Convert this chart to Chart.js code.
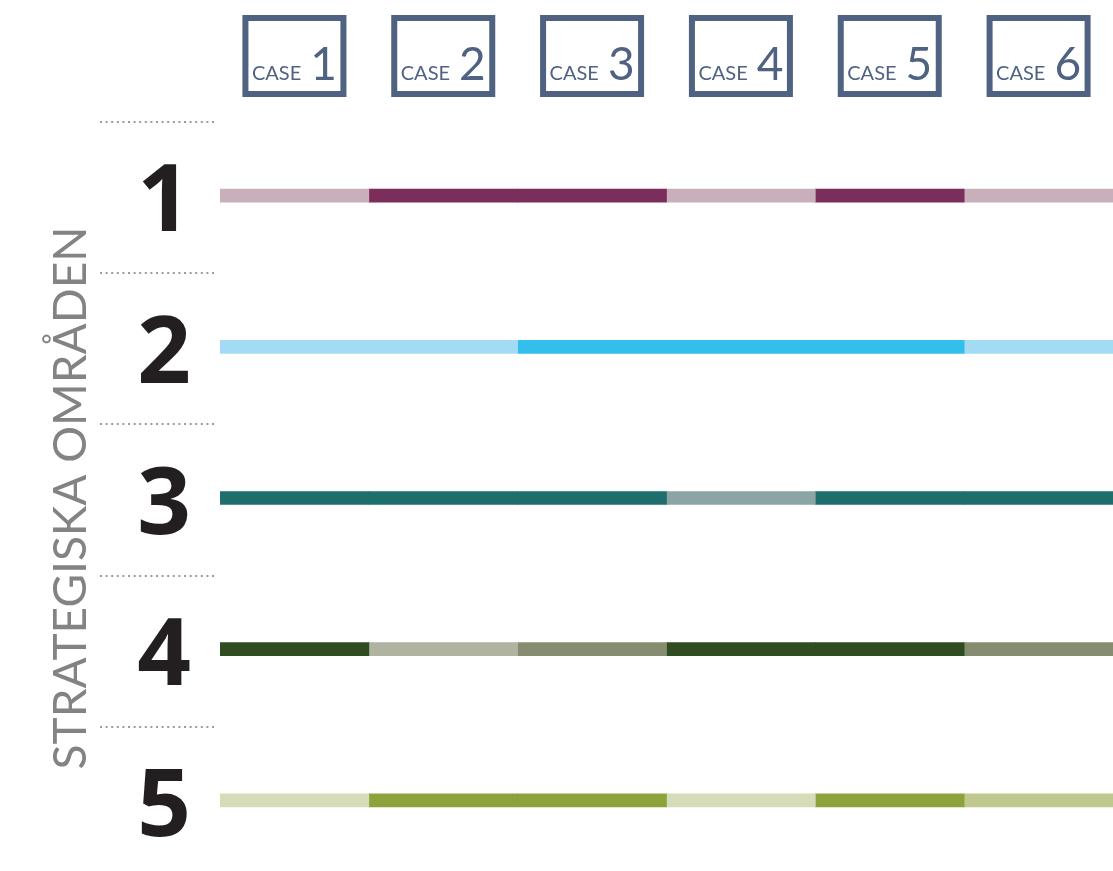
<!DOCTYPE html>
<html lang="sv">
<head>
    <meta charset="UTF-8">
    <title>Strategiska områden per case</title>
    <script src="https://cdn.jsdelivr.net/npm/chart.js"></script>
</head>
<style>
    body { margin: 0; background: #fff; overflow: hidden; }
    #wrap { width: 1113px; height: 876px; }
</style>
<body>
    <div id="wrap"><canvas id="caseChart"></canvas></div>

    <script>
        // cases along the top, strategic areas down the side
        const cases = ['1', '2', '3', '4', '5', '6'];
        const areas = ['1', '2', '3', '4', '5'];

        // intensity per area and case: 1 = light, 2 = medium, 3 = dark
        const area1 = [1, 3, 3, 1, 3, 1];
        const area2 = [1, 1, 3, 3, 3, 1];
        const area3 = [3, 3, 3, 2, 3, 3];
        const area4 = [3, 1, 2, 3, 3, 2];
        const area5 = [1, 3, 3, 1, 3, 2];
        const levels = [area1, area2, area3, area4, area5];

        // light, medium, dark for each area
        const palettes = [
            ['#c9aebb', '#a26a8a', '#7b2d5c'],
            ['#a3dbf5', '#6ccdf0', '#33bfeb'],
            ['#b5c8c7', '#8aa5a4', '#1e6e6e'],
            ['#afb3a0', '#868c70', '#304c21'],
            ['#d6dcb8', '#c1c88f', '#8ca23b']
        ];

        const boxColor = '#4f6281';

        const datasets = cases.map((c, ci) => ({
            label: 'CASE ' + c,
            data: [1, 1, 1, 1, 1],
            backgroundColor: areas.map((a, ai) => palettes[ai][levels[ai][ci] - 1]),
            borderWidth: 0,
            barThickness: 13
        }));

        const decorations = {
            id: 'decorations',
            afterDraw(chart) {
                const ctx = chart.ctx;
                const x = chart.scales.x;
                const y = chart.scales.y;

                // dotted separators between the areas
                const step = y.getPixelForValue(1) - y.getPixelForValue(0);
                ctx.save();
                ctx.strokeStyle = '#9b9b9b';
                ctx.lineWidth = 2;
                ctx.setLineDash([2, 3.6]);
                areas.forEach((a, i) => {
                    const yy = Math.round(y.getPixelForValue(i) - step / 2) + 2;
                    ctx.beginPath();
                    ctx.moveTo(100, yy);
                    ctx.lineTo(217, yy);
                    ctx.stroke();
                });
                ctx.restore();

                // big area numbers, sitting a little below the line
                ctx.save();
                ctx.fillStyle = '#231f20';
                ctx.font = 'bold 94px "Open Sans"';
                ctx.textAlign = 'right';
                ctx.textBaseline = 'middle';
                areas.forEach((a, i) => {
                    ctx.fillText(a, 191, y.getPixelForValue(i) + 9);
                });
                ctx.restore();

                // case boxes
                ctx.save();
                cases.forEach((c, i) => {
                    const cx = x.getPixelForValue(i + 0.5);
                    ctx.strokeStyle = boxColor;
                    ctx.lineWidth = 6;
                    ctx.strokeRect(cx - 49, 18, 98, 76);

                    ctx.fillStyle = boxColor;
                    ctx.textBaseline = 'alphabetic';
                    ctx.font = '20px Lato';
                    const w1 = ctx.measureText('CASE').width;
                    ctx.font = '46px Lato';
                    const w2 = ctx.measureText(c).width;
                    const gap = 9;
                    const sx = cx - (w1 + gap + w2) / 2;
                    ctx.font = '20px Lato';
                    ctx.fillText('CASE', sx, 80);
                    ctx.font = '46px Lato';
                    ctx.fillText(c, sx + w1 + gap, 80);
                });
                ctx.restore();
            }
        };

        new Chart(document.getElementById('caseChart'), {
            type: 'bar',
            data: { labels: areas, datasets: datasets },
            options: {
                indexAxis: 'y',
                responsive: true,
                maintainAspectRatio: false,
                animation: false,
                layout: { padding: { top: 120, right: 0, bottom: 0, left: 0 } },
                plugins: {
                    legend: { display: false },
                    tooltip: { enabled: false }
                },
                scales: {
                    x: {
                        type: 'linear',
                        stacked: true,
                        min: 0,
                        max: 6,
                        display: false
                    },
                    y: {
                        stacked: true,
                        afterFit(scale) {
                            scale.width = 220;
                            scale.paddingTop = 0;
                            scale.paddingBottom = 0;
                        },
                        grid: { display: false, drawTicks: false },
                        border: { display: false },
                        ticks: { display: false },
                        title: {
                            display: true,
                            text: 'STRATEGISKA OMRÅDEN',
                            color: '#838383',
                            font: { family: 'Lato', size: 46, weight: 'normal' },
                            padding: { top: 44, bottom: 0 }
                        }
                    }
                }
            },
            plugins: [decorations]
        });
    </script>
</body>
</html>
